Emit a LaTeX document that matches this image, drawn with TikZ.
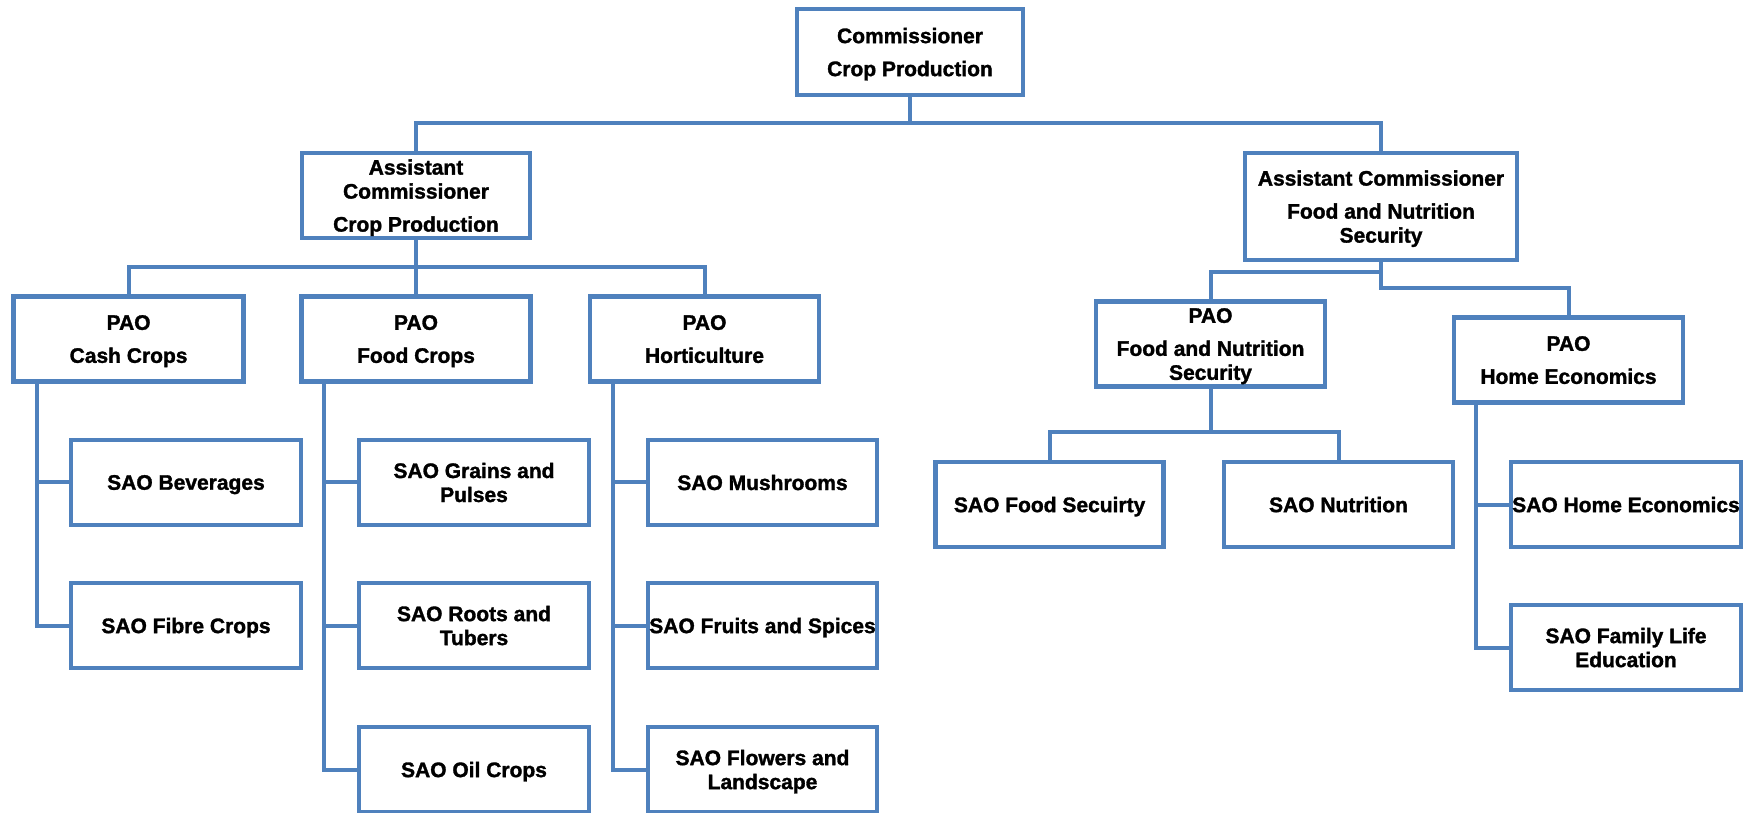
\documentclass[tikz,border=0pt]{standalone}
\usepackage{fontspec}
\setmainfont{Liberation Sans}[BoldFeatures={FakeBold=1.5}]
\definecolor{ocblue}{HTML}{4F81BD}
\begin{document}
\begin{tikzpicture}[x=1pt,y=-1pt,
  box/.style={draw=ocblue, line width=4.5pt, fill=white, rectangle,
    inner sep=0pt, outer sep=0pt, align=center, text depth=0pt,
    font=\fontsize{21}{24}\selectfont\bfseries,
    minimum width=229pt, minimum height=85pt},
  link/.style={draw=ocblue, line width=4pt, line join=miter}]
\useasboundingbox (0,0) rectangle (1745,812);

% top level
\node[box, minimum width=226pt, minimum height=86pt] (comm) at (910,52)
  {Commissioner\\[9pt]Crop Production};

% assistant commissioners
\node[box, minimum width=228pt] (acA) at (416,195.5)
  {Assistant\\Commissioner\\[9pt]Crop Production};
\node[box, minimum width=272pt, minimum height=107pt] (acB) at (1381,206.5)
  {Assistant Commissioner\\[9pt]Food and Nutrition\\Security};

% PAO level, crop production
\node[box, minimum width=230pt] (paoCash) at (128.6,339) {PAO\\[9pt]Cash Crops};
\node[box] (paoFood) at (416,339) {PAO\\[9pt]Food Crops};
\node[box] (paoHort) at (704.5,339) {PAO\\[9pt]Horticulture};

% PAO level, food and nutrition security
\node[box] (paoFNS) at (1210.5,344) {PAO\\[9pt]Food and Nutrition\\Security};
\node[box] (paoHE) at (1568.5,360) {PAO\\[9pt]Home Economics};

% SAO, cash crops
\node[box, minimum width=230pt] (sBev) at (186,482.4) {SAO Beverages};
\node[box, minimum width=230pt] (sFib) at (186,625.5) {SAO Fibre Crops};

% SAO, food crops
\node[box, minimum width=230pt] (sGra) at (474,482.4) {SAO Grains and\\Pulses};
\node[box, minimum width=230pt] (sRoo) at (474,625.5) {SAO Roots and\\Tubers};
\node[box, minimum width=230pt] (sOil) at (474,769.5) {SAO Oil Crops};

% SAO, horticulture
\node[box] (sMus) at (762.5,482.4) {SAO Mushrooms};
\node[box] (sFru) at (762.5,625.5) {SAO Fruits and Spices};
\node[box] (sFlo) at (762.5,769.5) {SAO Flowers and\\Landscape};

% SAO, food and nutrition security
\node[box, minimum width=228pt] (sFS) at (1049.6,504.5) {SAO Food Secuirty};
\node[box] (sNu) at (1338.5,504.5) {SAO Nutrition};

% SAO, home economics
\node[box, minimum width=230pt] (sHE) at (1626,504.5) {SAO Home Economics};
\node[box, minimum width=230pt] (sFLE) at (1626,647.5) {SAO Family Life\\Education};

% connectors: commissioner to assistant commissioners
\coordinate (b0) at (910,123);
\draw[link] (comm.south) -- (b0);
\draw[link] (acA.north) |- (b0) -| (acB.north);

% crop production to PAOs
\coordinate (b1) at (416,267);
\draw[link] (acA.south) -- (paoFood.north);
\draw[link] (paoCash.north) |- (b1) -| (paoHort.north);

% food and nutrition security to PAOs
\coordinate (r1) at (1381,272);
\coordinate (r2) at (1381,288);
\draw[link] (acB.south) -- (r2) -| (paoHE.north);
\draw[link] (r1) -| (paoFNS.north);

% PAO FNS to its SAOs
\coordinate (b2) at (1210.5,432);
\draw[link] (paoFNS.south) -- (b2);
\draw[link] (sFS.north) |- (b2) -| (sNu.north);

% spines down the left side of each PAO
\coordinate (s1) at (37.3,381.25);
\draw[link] (s1) |- (sBev.west);
\draw[link] (s1) |- (sFib.west);
\coordinate (s2) at (324.3,381.25);
\draw[link] (s2) |- (sGra.west);
\draw[link] (s2) |- (sRoo.west);
\draw[link] (s2) |- (sOil.west);
\coordinate (s3) at (613,381.25);
\draw[link] (s3) |- (sMus.west);
\draw[link] (s3) |- (sFru.west);
\draw[link] (s3) |- (sFlo.west);
\coordinate (s4) at (1476,402.5);
\draw[link] (s4) |- (sHE.west);
\draw[link] (s4) |- (sFLE.west);
\end{tikzpicture}
\end{document}
